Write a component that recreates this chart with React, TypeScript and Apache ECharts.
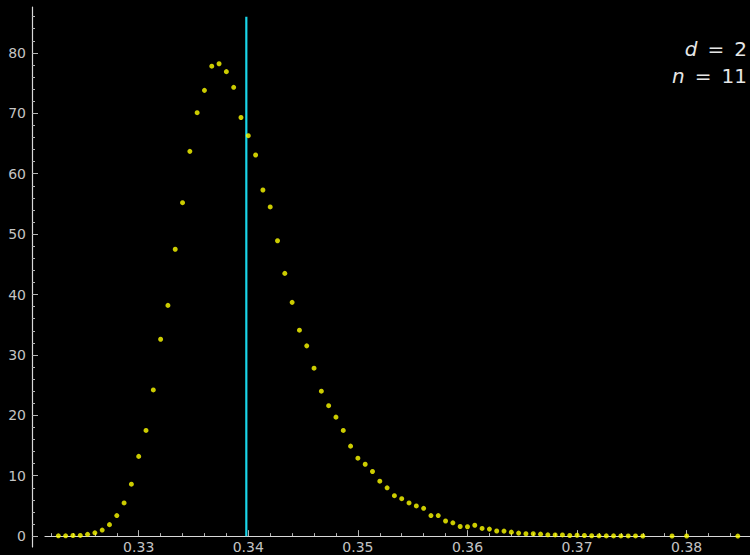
import React, { useEffect, useRef } from "react";
import * as echarts from "echarts";

// Bin positions of the sampled statistic
const binCenters = [
  0.322667, 0.323333, 0.324, 0.324667, 0.325333, 0.326, 0.326667, 0.327333,
  0.328, 0.328667, 0.329333, 0.33, 0.330667, 0.331333, 0.332, 0.332667,
  0.333333, 0.334, 0.334667, 0.335333, 0.336, 0.336667, 0.337333, 0.338,
  0.338667, 0.339333, 0.34, 0.340667, 0.341333, 0.342, 0.342667, 0.343333,
  0.344, 0.344667, 0.345333, 0.346, 0.346667, 0.347333, 0.348, 0.348667,
  0.349333, 0.35, 0.350667, 0.351333, 0.352, 0.352667, 0.353333, 0.354,
  0.354667, 0.355333, 0.356, 0.356667, 0.357333, 0.358, 0.358667, 0.359333,
  0.36, 0.360667, 0.361333, 0.362, 0.362667, 0.363333, 0.364, 0.364667,
  0.365333, 0.366, 0.366667, 0.367333, 0.368, 0.368667, 0.369333, 0.37,
  0.370667, 0.371333, 0.372, 0.372667, 0.373333, 0.374, 0.374667, 0.375333,
  0.376, 0.378667, 0.38, 0.384667,
];

// Estimated density in each bin
const density = [
  0.05, 0.05, 0.1, 0.12, 0.3, 0.55, 1.0, 1.9,
  3.4, 5.5, 8.6, 13.2, 17.5, 24.2, 32.6, 38.2,
  47.5, 55.2, 63.7, 70.1, 73.8, 77.8, 78.2, 76.9,
  74.3, 69.3, 66.3, 63.1, 57.3, 54.5, 48.9, 43.5,
  38.7, 34.1, 31.5, 27.8, 24.0, 21.6, 19.7, 17.5,
  14.9, 12.9, 11.9, 10.7, 9.1, 8.0, 6.7, 6.2,
  5.5, 5.0, 4.6, 3.4, 3.4, 2.5, 2.2, 1.6,
  1.55, 1.8, 1.27, 1.16, 0.85, 0.83, 0.66, 0.5,
  0.4, 0.39, 0.33, 0.22, 0.2, 0.2, 0.11, 0.15,
  0.1, 0.06, 0.05, 0.04, 0.04, 0.03, 0.03, 0.03,
  0.02, 0.02, 0.02, 0.01,
];

// Reference value marked by the vertical line
const referenceX = 0.33982;
const referenceTop = 86;

const xTickValues = [0.33, 0.34, 0.35, 0.36, 0.37, 0.38];
const yTickValues = [0, 10, 20, 30, 40, 50, 60, 70, 80];

const annotations = [
  { variable: "d", value: "2" },
  { variable: "n", value: "11" },
];

const AXIS_COLOR = "#d8d8d8";
const TICK_COLOR = "#b4b4b4";
const LABEL_COLOR = "#c4c4c4";
const FONT = "DejaVu Sans";

// Plot frame and value ranges
const GRID = { left: 45, right: 0, top: 7, bottom: 8 };
const Y_MIN = -1.8;
const Y_MAX = 87.6;

export default function App() {
  const ref = useRef<HTMLDivElement>(null);

  useEffect(() => {
    document.body.style.margin = "0";
    document.body.style.background = "#000";
    const chart = echarts.init(ref.current!, undefined, { renderer: "svg" });

    const points = binCenters.map((x, i) => [x, density[i]]);

    // Lift the x axis from the frame's bottom edge up to the zero level
    const plotHeight = 555 - GRID.top - GRID.bottom;
    const zeroLift = (-Y_MIN / (Y_MAX - Y_MIN)) * plotHeight;

    chart.setOption({
      animation: false,
      backgroundColor: "#000000",
      grid: {
        ...GRID,
        containLabel: false,
        outerBoundsMode: "none",
      },
      xAxis: {
        type: "value",
        min: 0.32145,
        max: 0.38578,
        splitNumber: 6,
        offset: -zeroLift,
        axisLine: { show: true, onZero: false, lineStyle: { color: AXIS_COLOR, width: 1.2 } },
        axisTick: {
          show: true,
          inside: true,
          length: 6,
          customValues: xTickValues,
          lineStyle: { color: TICK_COLOR, width: 1 },
        },
        minorTick: {
          show: true,
          splitNumber: 5,
          length: 3,
          lineStyle: { color: TICK_COLOR, width: 1 },
        },
        axisLabel: {
          customValues: xTickValues,
          formatter: (v: number) => v.toFixed(2),
          color: LABEL_COLOR,
          fontFamily: FONT,
          fontSize: 14,
          margin: 4,
        },
        splitLine: { show: false },
        minorSplitLine: { show: false },
      },
      yAxis: {
        type: "value",
        min: Y_MIN,
        max: Y_MAX,
        splitNumber: 9,
        offset: 13,
        axisLine: { show: true, onZero: false, lineStyle: { color: AXIS_COLOR, width: 1.2 } },
        axisTick: {
          show: true,
          inside: true,
          length: 6,
          customValues: yTickValues,
          lineStyle: { color: TICK_COLOR, width: 1 },
        },
        minorTick: {
          show: true,
          splitNumber: 5,
          length: 3,
          lineStyle: { color: TICK_COLOR, width: 1 },
        },
        axisLabel: {
          customValues: yTickValues,
          color: LABEL_COLOR,
          fontFamily: FONT,
          fontSize: 14,
          margin: 6,
        },
        splitLine: { show: false },
      },
      series: [
        {
          type: "line",
          data: [
            [referenceX, 0],
            [referenceX, referenceTop],
          ],
          showSymbol: false,
          symbol: "none",
          lineStyle: { color: "#1ad6ea", width: 2.2 },
          z: 2,
        },
        {
          type: "scatter",
          data: points,
          symbol: "circle",
          symbolSize: 5,
          itemStyle: { color: "#ffff00" },
          z: 3,
        },
      ],
      graphic: annotations.map((a, i) => ({
        type: "text",
        right: 3,
        top: 39 + i * 27,
        style: {
          text: `{v|${a.variable}}{t|\u2002=\u2002${a.value}}`,
          fill: "#e6e6e6",
          fontFamily: FONT,
          fontSize: 20,
          rich: {
            v: { fontStyle: "italic", fontFamily: FONT, fontSize: 20, fill: "#e6e6e6" },
            t: { fontFamily: FONT, fontSize: 20, fill: "#e6e6e6" },
          },
        },
      })),
    });

    return () => chart.dispose();
  }, []);

  return (
    <div
      ref={ref}
      style={{ position: "fixed", left: 0, top: 0, width: 750, height: 555, background: "#000" }}
    />
  );
}
